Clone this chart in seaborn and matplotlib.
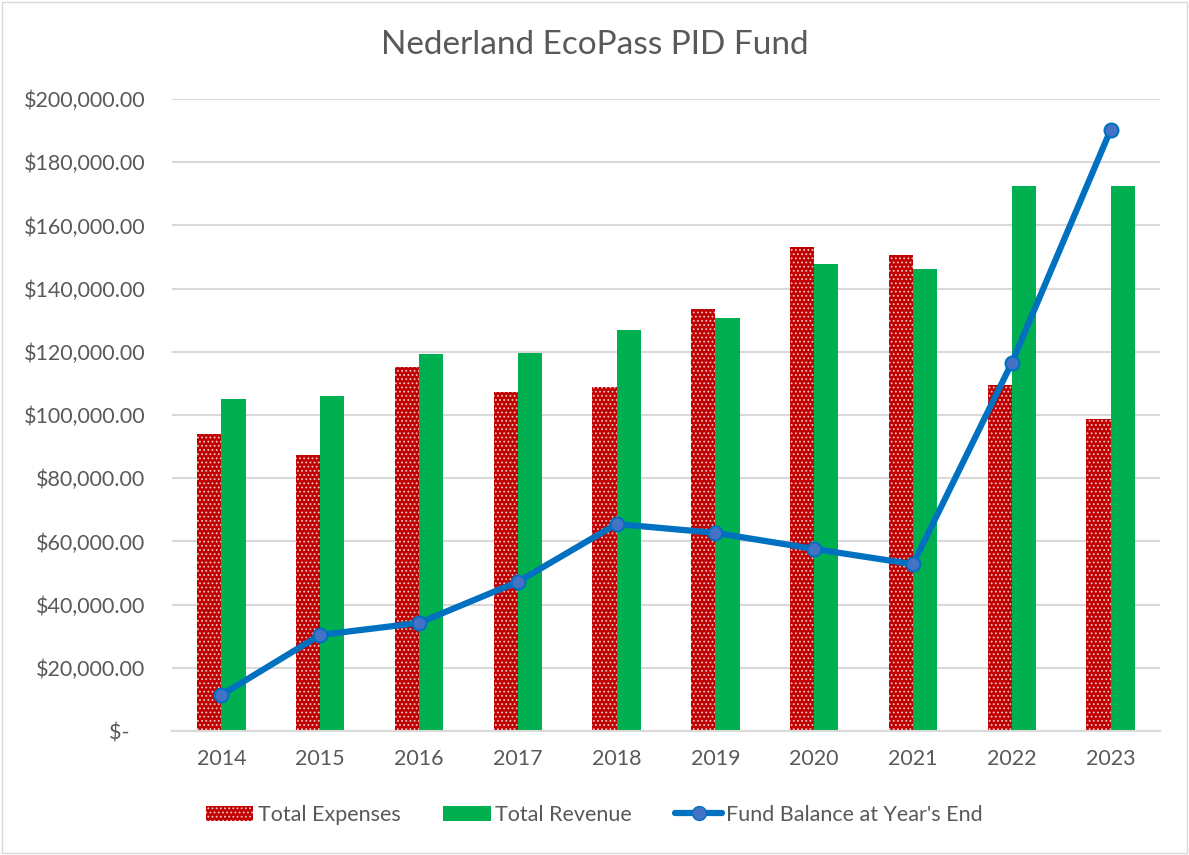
import pandas as pd
import matplotlib.pyplot as plt
import seaborn as sns
from matplotlib.patches import Patch, Rectangle
from matplotlib.lines import Line2D
from matplotlib.ticker import FuncFormatter

# values
years = ['2014', '2015', '2016', '2017', '2018', '2019', '2020', '2021', '2022', '2023']
expenses = [94000, 87300, 115200, 107300, 108900, 133500, 153200, 150600, 109500, 98700]
revenue = [105100, 106000, 119300, 119600, 126900, 130700, 147900, 146200, 172500, 172500]
balance = [11400, 30400, 34200, 47200, 65500, 62700, 57600, 52800, 116500, 190200]

sns.set_style('white')
plt.rcParams['font.family'] = ['Lato', 'DejaVu Sans']
plt.rcParams['hatch.color'] = '#F2C4C4'
plt.rcParams['hatch.linewidth'] = 0.8

txt = '#595959'
red = '#C00000'
green = '#00B050'
blue = '#0070C0'
dots = '#F2C4C4'

df = pd.DataFrame({
    'year': years * 2,
    'amount': expenses + revenue,
    'series': ['Total Expenses'] * len(years) + ['Total Revenue'] * len(years),
})

fig = plt.figure(figsize=(11.89, 8.55), dpi=100)
ax = fig.add_axes([172 / 1189, 1 - 731 / 855, (1160 - 172) / 1189, (731 - 99) / 855])

sns.barplot(data=df, x='year', y='amount', hue='series', order=years,
            palette=[red, green], width=0.49, gap=0, ax=ax, legend=False,
            saturation=1)

# dotted pattern on the expense bars
for bar in ax.containers[0]:
    bar.set_hatch('....')
    bar.set_edgecolor(dots)
    bar.set_linewidth(0)
for bar in ax.containers[1]:
    bar.set_linewidth(0)

ax.plot(years, balance, color=blue, lw=4.5, marker='o', markersize=10,
        markerfacecolor='#4472C4', markeredgecolor=blue, markeredgewidth=1.5,
        zorder=5, solid_capstyle='round')

ax.set_ylim(0, 200000)
ax.set_xlim(-0.5, len(years) - 0.5)
ax.set_yticks(range(0, 200001, 20000))
ax.yaxis.set_major_formatter(FuncFormatter(lambda v, p: '$-   ' if v == 0 else f'${v:,.2f}'))
ax.grid(axis='y', color='#D9D9D9', lw=1.5)
ax.set_axisbelow(True)
for s in ['top', 'right', 'left']:
    ax.spines[s].set_visible(False)
ax.spines['bottom'].set_color('#D9D9D9')
ax.spines['bottom'].set_linewidth(1.5)
ax.tick_params(axis='both', length=0, labelsize=15.5, colors=txt)
ax.tick_params(axis='y', pad=19)
ax.tick_params(axis='x', pad=13)
ax.set_xlabel('')
ax.set_ylabel('')

fig.text(0.5, 1 - 45 / 855, 'Nederland EcoPass PID Fund', ha='center', va='center',
         fontsize=24, color=txt)

handles = [
    Patch(facecolor=red, edgecolor=dots, hatch='....', lw=0),
    Patch(facecolor=green, lw=0),
    Line2D([], [], color=blue, lw=4.5, marker='o', markersize=10,
           markerfacecolor='#4472C4', markeredgecolor=blue),
]
fig.legend(handles, ['Total Expenses', 'Total Revenue', "Fund Balance at Year's End"],
           loc='center', bbox_to_anchor=(0.5, 1 - 815 / 855), ncol=3, frameon=False,
           fontsize=15.5, labelcolor=txt, handlelength=2.2, handletextpad=0.2,
           columnspacing=2.0)

fig.patches.append(Rectangle((0.002, 0.002), 0.996, 0.996, transform=fig.transFigure,
                             fill=False, edgecolor='#D9D9D9', lw=1))

fig.savefig('out.png', dpi=100)
